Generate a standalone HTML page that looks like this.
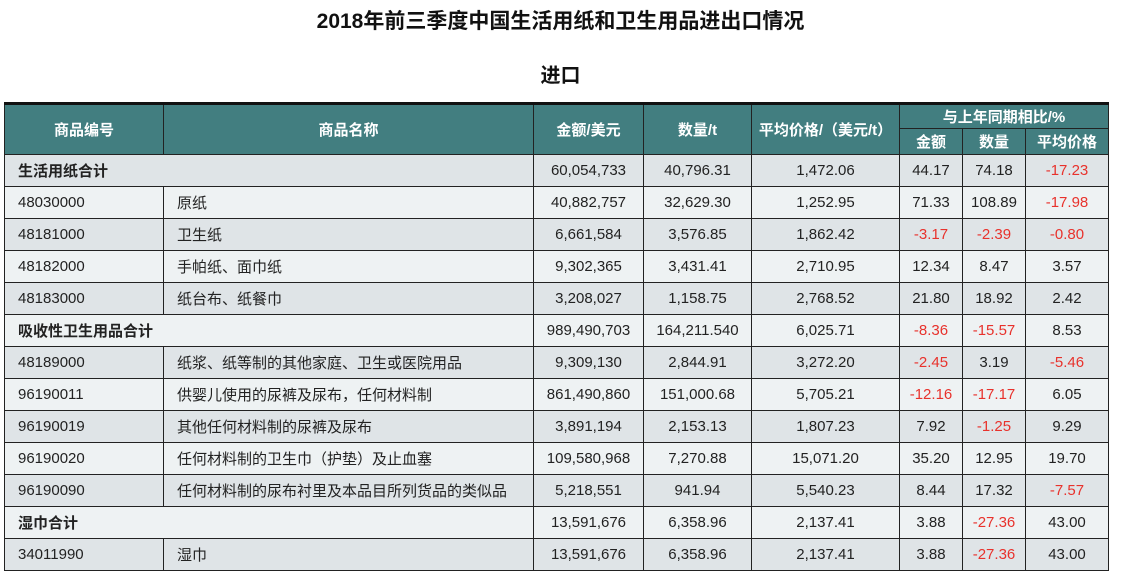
<!DOCTYPE html>
<html><head><meta charset="utf-8">
<style>
body{margin:0;width:1121px;height:583px;background:#fff;position:relative;overflow:hidden;font-family:"Liberation Sans","Noto Sans CJK SC",sans-serif;}
#title{position:absolute;left:0;width:1121px;top:8px;text-align:center;font-size:21px;font-weight:bold;line-height:28px;color:#111;}
#sub{position:absolute;left:0;width:1121px;top:62px;text-align:center;font-size:20px;font-weight:bold;line-height:28px;color:#111;}
table{position:absolute;left:4px;top:102px;border-collapse:collapse;table-layout:fixed;width:1104px;font-size:15px;color:#222;}
td,th{border:1.5px solid #222;padding:0;white-space:nowrap;overflow:hidden;}
th{background:#427e80;color:#fff;font-weight:bold;font-size:15px;}
table{border-top:3px solid #111;}
tr.r td{height:31px;}
td.l{text-align:left;padding-left:13px;}
td.c{text-align:center;}
tr.a td{background:#dfe4e7;}
tr.b td{background:#eef2f3;}
tr.s td.l{font-weight:bold;}
.red{color:#e8322c;}
</style></head><body>
<div id="title">2018年前三季度中国生活用纸和卫生用品进出口情况</div>
<div id="sub">进口</div>
<table>
<colgroup><col style="width:159px"><col style="width:370px"><col style="width:110px"><col style="width:108px"><col style="width:148px"><col style="width:63px"><col style="width:63px"><col style="width:83px"></colgroup>
<thead>
<tr style="height:25px"><th rowspan="2">商品编号</th><th rowspan="2">商品名称</th><th rowspan="2">金额/美元</th><th rowspan="2">数量/t</th><th rowspan="2">平均价格/（美元/t）</th><th colspan="3">与上年同期相比/%</th></tr>
<tr style="height:26px"><th>金额</th><th>数量</th><th>平均价格</th></tr>
</thead>
<tbody id="tb"></tbody>
</table>
<script>
const codes=["生活用纸合计","48030000","48181000","48182000","48183000","吸收性卫生用品合计","48189000","96190011","96190019","96190020","96190090","湿巾合计","34011990"];
const names=["","原纸","卫生纸","手帕纸、面巾纸","纸台布、纸餐巾","","纸浆、纸等制的其他家庭、卫生或医院用品","供婴儿使用的尿裤及尿布，任何材料制","其他任何材料制的尿裤及尿布","任何材料制的卫生巾（护垫）及止血塞","任何材料制的尿布衬里及本品目所列货品的类似品","","湿巾"];
const amounts=["60,054,733","40,882,757","6,661,584","9,302,365","3,208,027","989,490,703","9,309,130","861,490,860","3,891,194","109,580,968","5,218,551","13,591,676","13,591,676"];
const quantities=["40,796.31","32,629.30","3,576.85","3,431.41","1,158.75","164,211.540","2,844.91","151,000.68","2,153.13","7,270.88","941.94","6,358.96","6,358.96"];
const prices=["1,472.06","1,252.95","1,862.42","2,710.95","2,768.52","6,025.71","3,272.20","5,705.21","1,807.23","15,071.20","5,540.23","2,137.41","2,137.41"];
const yoyAmount=["44.17","71.33","-3.17","12.34","21.80","-8.36","-2.45","-12.16","7.92","35.20","8.44","3.88","3.88"];
const yoyQuantity=["74.18","108.89","-2.39","8.47","18.92","-15.57","3.19","-17.17","-1.25","12.95","17.32","-27.36","-27.36"];
const yoyPrice=["-17.23","-17.98","-0.80","3.57","2.42","8.53","-5.46","6.05","9.29","19.70","-7.57","43.00","43.00"];
const tb=document.getElementById('tb');
function cell(tr,txt,cls,name){const td=document.createElement('td');td.className=cls;td.textContent=txt;


if(txt.startsWith('-'))td.classList.add('red');tr.appendChild(td);return td;}
codes.forEach((c,i)=>{
const tr=document.createElement('tr');
tr.className='r '+(i%2===0?'a':'b');


const subtotal=names[i]==='';
if(subtotal){tr.classList.add('s');const td=cell(tr,c,'l','row-label');td.colSpan=2;}
else{cell(tr,c,'l','code-cell');cell(tr,names[i],'l','name-cell');}
cell(tr,amounts[i],'c','amount-cell');
cell(tr,quantities[i],'c','quantity-cell');
cell(tr,prices[i],'c','price-cell');
cell(tr,yoyAmount[i],'c','yoy-amount-cell');
cell(tr,yoyQuantity[i],'c','yoy-quantity-cell');
cell(tr,yoyPrice[i],'c','yoy-price-cell');
tb.appendChild(tr);
});
</script>
</body></html>
